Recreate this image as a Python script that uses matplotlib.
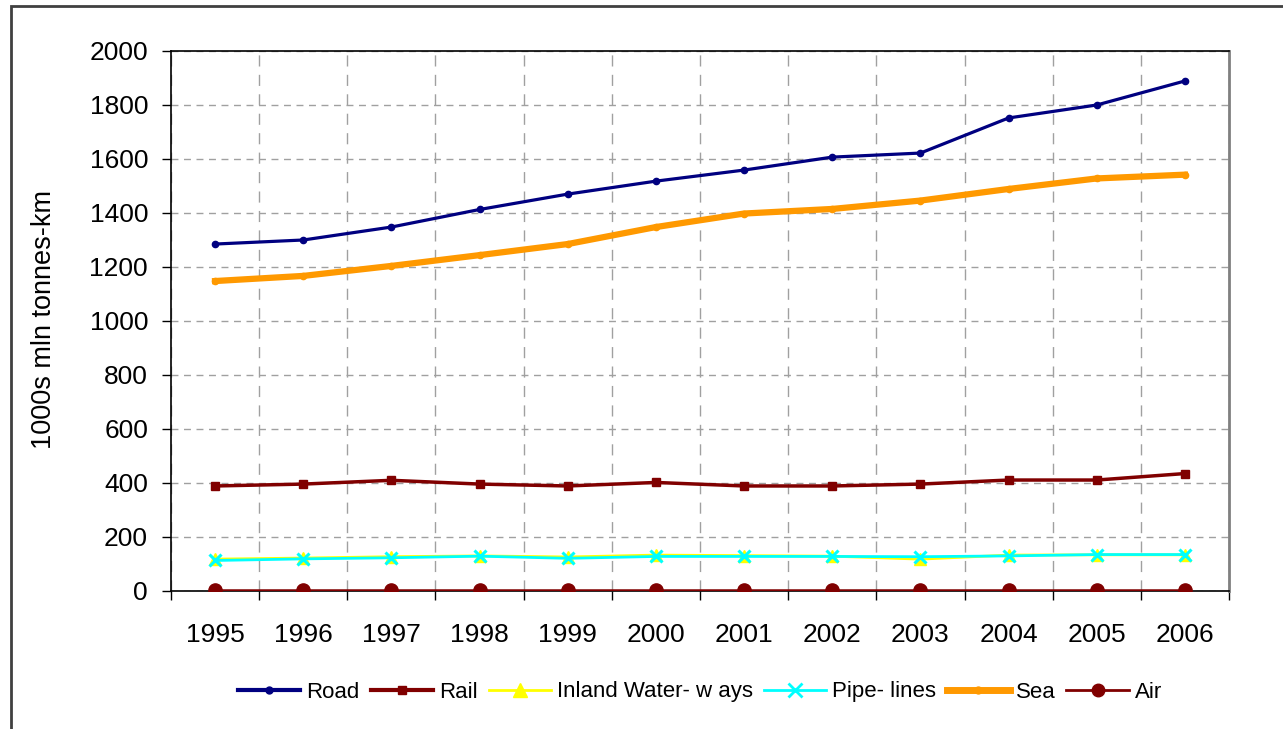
import matplotlib
matplotlib.use("Agg")
import matplotlib.pyplot as plt
from matplotlib.lines import Line2D
from matplotlib.patches import Rectangle

plt.rcParams['font.family'] = ['Liberation Sans', 'DejaVu Sans']

years = ['1995', '1996', '1997', '1998', '1999', '2000', '2001', '2002', '2003', '2004', '2005', '2006']
road = [1285, 1300, 1348, 1413, 1470, 1518, 1559, 1607, 1622, 1752, 1800, 1889]
rail = [389, 396, 410, 396, 389, 402, 389, 389, 396, 411, 411, 435]
inland = [118, 122, 127, 130, 126, 133, 131, 129, 118, 133, 134, 134]
pipelines = [113, 119, 123, 129, 121, 128, 128, 128, 127, 130, 135, 135]
sea = [1148, 1167, 1204, 1244, 1285, 1348, 1398, 1415, 1446, 1489, 1528, 1542]
air = [2, 2, 2, 2, 2, 2, 2, 2, 2, 2, 2, 2]

W, H = 1283, 729
fig = plt.figure(figsize=(W / 100, H / 100), dpi=100)
ax = fig.add_axes([171 / W, 1 - 591 / H, (1229 - 171) / W, (591 - 51) / H])

x = list(range(len(years)))
ax.plot(x, road, color='#000080', lw=2.3, marker='o', ms=4.5, label='Road', zorder=5)
ax.plot(x, rail, color='#800000', lw=2.5, marker='s', ms=5.5, label='Rail', zorder=5)
ax.plot(x, inland, color='#FFFF00', lw=2, marker='^', ms=9, label='Inland Water- w ays', zorder=4)
ax.plot(x, pipelines, color='#00FFFF', lw=2, marker='x', ms=9, mew=2.2, label='Pipe- lines', zorder=5)
ax.plot(x, sea, color='#FF9900', lw=4.5, marker='o', ms=4.5, label='Sea', zorder=5)
ax.plot(x, air, color='#800000', lw=1.8, marker='o', ms=9.5, label='Air', zorder=6)

ax.set_xlim(-0.5, len(years) - 0.5)
ax.set_ylim(0, 2000)
ax.set_yticks(range(0, 2001, 200))
ax.set_xticks(x)
ax.set_xticklabels(years)
ax.set_xticks([i - 0.5 for i in range(len(years) + 1)], minor=True)
ax.tick_params(axis='x', which='major', length=0, labelsize=19, pad=23)
ax.tick_params(axis='x', which='minor', length=6.5, width=1, direction='out', color='black')
ax.tick_params(axis='y', which='major', length=6.5, width=1, direction='out', labelsize=19, pad=10)

ax.grid(True, axis='y', which='major', color='#a0a0a0', ls=(0, (5, 4)), lw=1)
ax.grid(True, axis='x', which='minor', color='#a0a0a0', ls=(0, (8, 6)), lw=1)
ax.grid(False, axis='x', which='major')
ax.set_axisbelow(True)

for s in ['left', 'bottom', 'top']:
    ax.spines[s].set_color('black')
    ax.spines[s].set_linewidth(1.2)
ax.spines['right'].set_color('#808080')
ax.spines['right'].set_linewidth(2)

ax.set_ylabel('1000s mln tonnes-km', fontsize=19.5)
ax.yaxis.set_label_coords(57 / W, 1 - 320 / H, transform=fig.transFigure)

# legend
handles = [
    Line2D([], [], color='#000080', lw=3, marker='o', ms=5),
    Line2D([], [], color='#800000', lw=3, marker='s', ms=6),
    Line2D([], [], color='#FFFF00', lw=2, marker='^', ms=10),
    Line2D([], [], color='#00FFFF', lw=2, marker='x', ms=10, mew=2),
    Line2D([], [], color='#FF9900', lw=5, marker='o', ms=5),
    Line2D([], [], color='#800000', lw=2, marker='o', ms=9),
]
labels = ['Road', 'Rail', 'Inland Water- w ays', 'Pipe- lines', 'Sea', 'Air']
fig.legend(handles, labels, loc='center', bbox_to_anchor=(700 / W, 1 - 692 / H),
           ncol=6, frameon=False, handlelength=2.8, handletextpad=0.27, columnspacing=0.5,
           prop={'size': 16})

# outer chart border
fig.patches.append(Rectangle((11 / W, -0.05), 1.5, 1 - 6 / H + 0.05, transform=fig.transFigure,
                             fill=False, edgecolor='#404040', lw=2))

fig.savefig('out.png', dpi=100, facecolor='white')
